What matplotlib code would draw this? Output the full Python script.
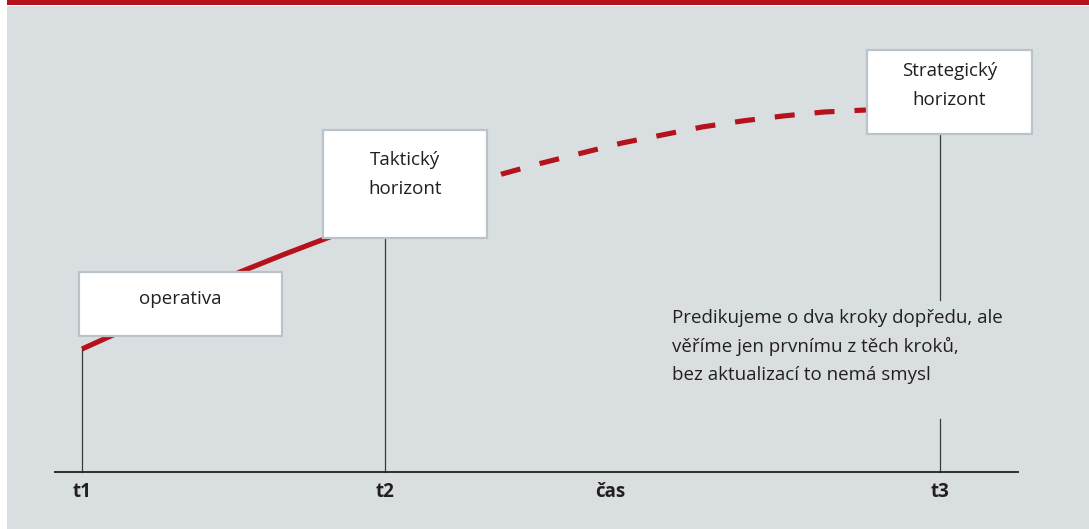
import matplotlib
matplotlib.use("Agg")
import matplotlib.pyplot as plt
from matplotlib.patches import Rectangle

plt.rcParams['font.family'] = ['Open Sans', 'DejaVu Sans']
plt.rcParams['lines.scale_dashes'] = False

# ---- data (in picture units: x = column, y = row) ----
tick_labels = ["t1", "t2", "čas", "t3"]
tick_x = [82, 385, 610, 940]

solid_x = [82, 113, 160, 200, 240, 285, 327, 365, 400]
solid_y = [349, 335, 311, 291, 272, 254, 238, 224, 211]
dashed_x = [400, 440, 470, 502, 542, 582, 622, 662, 702, 742, 783, 824, 845, 866]
dashed_y = [211, 197, 186, 174, 163, 153, 143, 135, 127, 121, 116, 112, 111, 110]

# vertical markers: (x, y_top, y_bottom)
vlines = [(82, 349, 472), (385, 238, 472), (940, 134, 300), (940, 419, 472)]

# boxes: (x0, y0, x1, y1, label lines, first baseline)
boxes = [
    (79, 272, 282, 336, ["operativa"], 304),
    (323, 130, 487, 238, ["Taktický", "horizont"], 165),
    (867, 50, 1032, 134, ["Strategický", "horizont"], 76),
]

note_lines = ["Predikujeme o dva kroky dopředu, ale",
              "věříme jen prvnímu z těch kroků,",
              "bez aktualizací to nemá smysl"]
note_baselines = [323, 352, 380]

RED = "#b5121b"
BG = "#d9dee1"
TXT = "#231f20"

W, H = 1089, 529
fig = plt.figure(figsize=(W / 100, H / 100), dpi=100)
fig.patch.set_facecolor("white")
ax = fig.add_axes([0, 0, 1, 1])
ax.set_xlim(0, W)
ax.set_ylim(H, 0)
ax.axis("off")

# background panel and top red bar
ax.add_patch(Rectangle((7, 6), W - 7, H - 6, facecolor=BG, edgecolor="none", zorder=0))
ax.add_patch(Rectangle((7, 0), W - 7, 4.5, facecolor=RED, edgecolor="none", zorder=0))

# time axis
ax.plot([54, 1019], [472, 472], color=TXT, lw=1.3, solid_capstyle="butt", zorder=2)
for x, y0, y1 in vlines:
    ax.plot([x, x], [y0, y1], color="#3a3a3a", lw=0.9, zorder=1)

# curve
ax.plot(solid_x, solid_y, color=RED, lw=3.7, solid_capstyle="butt", zorder=1)
ax.plot(dashed_x, dashed_y, color=RED, lw=3.7, dash_capstyle="butt",
        linestyle=(9, (14.4, 14.4)), zorder=1)

# boxes
for x0, y0, x1, y1, lines, base in boxes:
    ax.add_patch(Rectangle((x0, y0), x1 - x0, y1 - y0, facecolor="white",
                           edgecolor="#b9c3c9", lw=1.6, zorder=3))
    cx = (x0 + x1) / 2
    for i, ln in enumerate(lines):
        ax.text(cx, base + 29 * i, ln, ha="center", va="baseline",
                fontsize=13.5, color=TXT, zorder=4)

# note text
for ln, b in zip(note_lines, note_baselines):
    ax.text(672, b, ln, ha="left", va="baseline", fontsize=13.5, color=TXT, zorder=4)

# tick labels
for lab, x in zip(tick_labels, tick_x):
    ax.text(x, 497, lab, ha="center", va="baseline", fontsize=13.5,
            fontweight="bold", color=TXT, zorder=4)

fig.savefig("out.png", dpi=100, facecolor=fig.get_facecolor())
